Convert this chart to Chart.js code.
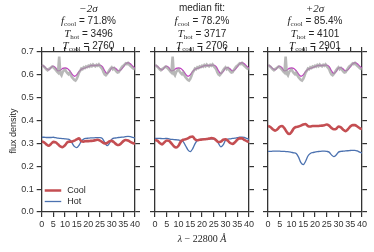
<!DOCTYPE html>
<html><head><meta charset="utf-8">
<script src="https://cdn.jsdelivr.net/npm/chart.js@4.4.1/dist/chart.umd.min.js"></script>
<style>
html,body{margin:0;padding:0;background:#fff;}
#wrap{position:relative;width:374px;height:252px;overflow:hidden;font-family:"Liberation Sans",Arial,sans-serif;color:#262626;}
canvas{position:absolute;top:0;}
.t{position:absolute;font-size:10px;line-height:12px;text-align:center;width:110px;white-space:nowrap;}
.m{font-family:"Liberation Serif","DejaVu Serif",serif;font-style:italic;font-size:11px;}
.s{font-family:"Liberation Serif","DejaVu Serif",serif;font-size:7px;position:relative;top:2px;}
#ylab{position:absolute;left:-22px;top:126px;width:70px;text-align:center;font-size:9px;transform:rotate(-90deg);}
#xlab{position:absolute;left:150px;top:233px;width:104px;text-align:center;font-size:10px;font-family:"Liberation Serif","DejaVu Serif",serif;}
</style></head><body>
<div id="wrap">
<canvas id="c0" width="145" height="252" style="left:0px"></canvas>
<canvas id="c1" width="114" height="252" style="left:145px"></canvas>
<canvas id="c2" width="114" height="252" style="left:258px"></canvas>
<div id="ylab">flux density</div>
<div id="xlab"><i>λ</i> − 22800 <i>Å</i></div>
</div>
<script>
// ---- data ----
const xModel = [0,1,2,3,4,5,6,7,8,9,10,11,12,13,14,15,16,17,18,19,20,21,22,23,24,25,26,27,28,29,30,31,32,33,34,35,36,37,38,39,40];
const xObs = [0,0.5,1,1.5,2,2.5,3,3.5,4,4.5,5,5.5,6,6.5,7,7.5,8,8.5,9,9.5,10,10.5,11,11.5,12,12.5,13,13.5,14,14.5,15,15.5,16,16.5,17,17.5,18,18.5,19,19.5,20,20.5,21,21.5,22,22.5,23,23.5,24,24.5,25,25.5,26,26.5,27,27.5,28,28.5,29,29.5,30,30.5,31,31.5,32,32.5,33,33.5,34,34.5,35,35.5,36,36.5,37,37.5,38,38.5,39,39.5,40];
const observed = [0.645,0.640,0.636,0.630,0.624,0.620,0.625,0.628,0.632,0.636,0.633,0.628,0.622,0.615,0.610,0.680,0.606,0.598,0.612,0.620,0.624,0.615,0.608,0.603,0.610,0.598,0.590,0.583,0.578,0.575,0.582,0.595,0.610,0.618,0.628,0.625,0.633,0.630,0.637,0.634,0.640,0.636,0.643,0.638,0.645,0.640,0.637,0.644,0.640,0.646,0.638,0.632,0.625,0.612,0.602,0.598,0.604,0.612,0.620,0.628,0.633,0.625,0.630,0.622,0.615,0.610,0.612,0.620,0.628,0.636,0.640,0.645,0.650,0.647,0.652,0.645,0.640,0.635,0.630,0.626,0.624];
const combined = [0.642,0.638,0.628,0.622,0.632,0.638,0.630,0.617,0.620,0.628,0.630,0.628,0.618,0.603,0.594,0.600,0.614,0.624,0.628,0.632,0.636,0.640,0.641,0.641,0.643,0.643,0.636,0.618,0.606,0.614,0.630,0.632,0.625,0.617,0.622,0.635,0.648,0.653,0.648,0.638,0.630];
const cool1 = [0.308,0.305,0.296,0.290,0.298,0.307,0.305,0.296,0.287,0.284,0.292,0.305,0.308,0.308,0.312,0.318,0.322,0.310,0.308,0.310,0.310,0.311,0.312,0.314,0.316,0.312,0.306,0.300,0.302,0.309,0.311,0.305,0.296,0.293,0.300,0.310,0.315,0.313,0.307,0.302,0.299];
const hot1 = [0.327,0.327,0.326,0.326,0.326,0.327,0.325,0.323,0.322,0.321,0.320,0.319,0.316,0.302,0.287,0.282,0.292,0.310,0.319,0.322,0.323,0.324,0.324,0.325,0.325,0.325,0.322,0.305,0.290,0.300,0.318,0.323,0.324,0.326,0.327,0.328,0.330,0.331,0.330,0.327,0.324];
const cool2 = [0.315,0.312,0.302,0.296,0.305,0.313,0.311,0.300,0.288,0.282,0.290,0.308,0.316,0.318,0.322,0.328,0.330,0.318,0.314,0.316,0.317,0.318,0.319,0.321,0.323,0.322,0.314,0.306,0.308,0.316,0.318,0.312,0.302,0.298,0.305,0.316,0.322,0.322,0.316,0.310,0.306];
const hot2 = [0.322,0.322,0.322,0.321,0.321,0.322,0.320,0.318,0.317,0.316,0.315,0.313,0.308,0.290,0.272,0.264,0.276,0.298,0.313,0.317,0.318,0.319,0.319,0.320,0.320,0.320,0.316,0.300,0.285,0.294,0.313,0.319,0.320,0.322,0.323,0.325,0.327,0.328,0.326,0.322,0.318];
const cool3 = [0.376,0.372,0.362,0.356,0.362,0.373,0.376,0.366,0.350,0.341,0.350,0.366,0.372,0.374,0.378,0.383,0.385,0.376,0.374,0.376,0.376,0.376,0.377,0.378,0.380,0.383,0.378,0.368,0.362,0.364,0.374,0.370,0.360,0.354,0.362,0.374,0.380,0.380,0.374,0.367,0.362];
const hot3 = [0.265,0.265,0.266,0.266,0.266,0.266,0.265,0.265,0.264,0.263,0.261,0.259,0.256,0.240,0.216,0.207,0.222,0.245,0.256,0.260,0.262,0.264,0.265,0.266,0.266,0.265,0.262,0.250,0.242,0.249,0.262,0.265,0.266,0.267,0.268,0.269,0.270,0.270,0.267,0.262,0.258];
const xTicks = [0,5,10,15,20,25,30,35,40];
const yTicks = [0.0,0.1,0.2,0.3,0.4,0.5,0.6,0.7];
const panelTitles = [
  {head:'<span class="m">−2σ</span>', f:'71.8%', th:'3496', tc:'2760'},
  {head:'median fit:', f:'78.2%', th:'3717', tc:'2706'},
  {head:'<span class="m">+2σ</span>', f:'85.4%', th:'4101', tc:'2901'}
];
const coolSeries = [cool1, cool2, cool3];
const hotSeries = [hot1, hot2, hot3];
const legendLabels = ['Cool','Hot'];

// ---- style ----
const AX = '#333333';
const RED = '#c44e52', BLUE = '#4c72b0', MAG = '#c03fc0', GRAY = 'rgba(160,160,160,0.75)';
const centers = [88.5, 202, 315];

const wrap = document.getElementById('wrap');
panelTitles.forEach((p,i)=>{
  const lines = [p.head,
    '<span class="m">f</span><span class="s">cool</span> = '+p.f,
    '<span class="m">T</span><span class="s">hot</span> = '+p.th,
    '<span class="m">T</span><span class="s">cool</span> = '+p.tc];
  lines.forEach((h,k)=>{
    const d=document.createElement('div'); d.className='t';
    d.style.left=(centers[i]-55)+'px'; d.style.top=(2+k*12.3)+'px';
    d.innerHTML=h; wrap.appendChild(d);
  });
});

function pts(xs, ys){ return xs.map((x,i)=>({x:x,y:ys[i]})); }

const legendPlugin = {
  id:'legendBox',
  afterDatasetsDraw(chart, args, opts){
    if(!opts.show) return;
    const ctx = chart.ctx;
    const x0 = chart.scales.x.getPixelForValue(1.3);
    const items = [{c:RED,w:2.5,y:190.5,t:legendLabels[0]},{c:BLUE,w:1.3,y:201.5,t:legendLabels[1]}];
    ctx.save();
    ctx.font = '9px "Liberation Sans", Arial, sans-serif';
    ctx.textBaseline='middle';
    items.forEach(it=>{
      ctx.strokeStyle=it.c; ctx.lineWidth=it.w;
      ctx.beginPath(); ctx.moveTo(x0,it.y); ctx.lineTo(x0+16.5,it.y); ctx.stroke();
      ctx.fillStyle='#262626'; ctx.fillText(it.t, x0+22.5, it.y);
    });
    ctx.restore();
  }
};

function makeChart(id, idx){
  const first = idx===0;
  const yW = first ? 41.7 : 10;
  const grid = {drawOnChartArea:false, drawTicks:true, tickLength:5, color:AX, lineWidth:1.2};
  const border = {display:true, color:AX, width:1.3};
  const tickFont = {family:'"Liberation Sans", Arial, sans-serif', size:9};
  new Chart(document.getElementById(id), {
    type:'line',
    data:{datasets:[
      {data:pts(xObs, observed), borderColor:GRAY, borderWidth:2.6, tension:0, pointRadius:0},
      {data:pts(xModel, combined), borderColor:MAG, borderWidth:1.3, cubicInterpolationMode:'monotone', pointRadius:0},
      {label:legendLabels[0], data:pts(xModel, coolSeries[idx]), borderColor:RED, borderWidth:2.6, cubicInterpolationMode:'monotone', pointRadius:0},
      {label:legendLabels[1], data:pts(xModel, hotSeries[idx]), borderColor:BLUE, borderWidth:1.3, cubicInterpolationMode:'monotone', pointRadius:0}
    ]},
    options:{
      responsive:false, animation:false, devicePixelRatio:1,
      layout:{padding:{top:45,left:0,right:0,bottom:0}},
      plugins:{legend:{display:false}, tooltip:{enabled:false}, legendBox:{show:first}},
      scales:{
        x:{type:'linear', position:'bottom', min:0, max:40, afterBuildTicks:s=>{s.ticks=xTicks.map(v=>({value:v}));},
           ticks:{color:'#333', font:tickFont, padding:2, maxRotation:0, autoSkip:false}, grid:grid, border:border,
           afterFit:s=>{s.height=40;}},
        x2:{type:'linear', position:'top', min:0, max:40, afterBuildTicks:s=>{s.ticks=xTicks.map(v=>({value:v}));},
           ticks:{display:false}, grid:grid, border:border, afterFit:s=>{s.height=7;}},
        y:{type:'linear', position:'left', min:0, max:0.7, afterBuildTicks:s=>{s.ticks=yTicks.map(v=>({value:v}));},
           ticks:{display:first, color:'#333', font:tickFont, padding:3, callback:v=>v.toFixed(1)}, grid:grid, border:border,
           afterFit:s=>{s.width=yW;}},
        y2:{type:'linear', position:'right', min:0, max:0.7, afterBuildTicks:s=>{s.ticks=yTicks.map(v=>({value:v}));},
           ticks:{display:false}, grid:grid, border:border, afterFit:s=>{s.width=10;}}
      }
    },
    plugins:[legendPlugin]
  });
}
makeChart('c0',0); makeChart('c1',1); makeChart('c2',2);
</script>
</body></html>
